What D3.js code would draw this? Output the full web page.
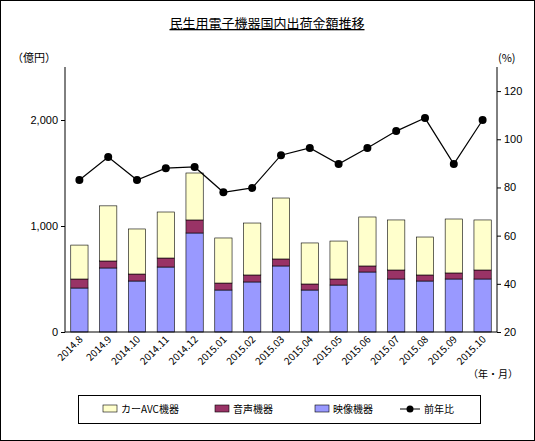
<!DOCTYPE html><html><head><meta charset="utf-8"><script src="https://cdn.jsdelivr.net/npm/d3@7"></script>
<style>body{margin:0}svg{font-family:"Noto Sans CJK JP",sans-serif}</style></head><body><svg width="535" height="441"></svg><script>
const months=["2014.8","2014.9","2014.10","2014.11","2014.12","2015.01","2015.02","2015.03","2015.04","2015.05","2015.06","2015.07","2015.08","2015.09","2015.10"];
const video=[415,604,481,613,934,396,472,623,396,443,566,500,481,500,500];
const audio=[85,66,66,85,123,66,66,66,57,57,57,85,57,57,85];
const carAvc=[320,520,425,434,443,425,490,575,387,358,462,472,358,509,472];
const yoy=[83.1,92.6,83.1,88,88.5,78,79.8,93.4,96.4,89.7,96.4,103.4,108.8,89.7,108];
const leftTicks=[0,1000,2000], rightTicks=[20,40,60,80,100,120];
const svg=d3.select("svg");
svg.append("rect").attr("x",0.5).attr("y",0.5).attr("width",534).attr("height",440).attr("fill","#fff").attr("stroke","#000");
const L=65,R=497,T=67,B=332;
const x=d3.scaleBand().domain(months).range([L,R]).paddingInner(0.4).paddingOuter(0.2);
const yl=d3.scaleLinear().domain([0,2500]).range([B,T]);
const yr=d3.scaleLinear().domain([20,130]).range([B,T]);
const ser=[{v:video,c:"#9999FF"},{v:audio,c:"#993366"},{v:carAvc,c:"#FFFFCC"}];
months.forEach((m,i)=>{let base=0;ser.forEach(s=>{const v=s.v[i];
svg.append("rect").attr("x",x(m)).attr("width",x.bandwidth()).attr("y",yl(base+v)).attr("height",yl(base)-yl(base+v)).attr("fill",s.c).attr("stroke","#000").attr("stroke-width",0.6);base+=v;});});
const gl=svg.append("g").attr("transform",`translate(${L},0)`).call(d3.axisLeft(yl).tickValues(leftTicks).tickFormat(d3.format(",")).tickSizeOuter(0).tickSize(4));
gl.append("line").attr("y1",T).attr("y2",B).attr("stroke","#000");
const gr=svg.append("g").attr("transform",`translate(${R},0)`).call(d3.axisRight(yr).tickValues(rightTicks).tickSizeOuter(0).tickSize(4));
gr.append("line").attr("y1",T).attr("y2",B).attr("stroke","#000");
svg.append("line").attr("x1",L).attr("x2",R).attr("y1",B).attr("y2",B).attr("stroke","#000");
svg.selectAll(".tick text").attr("font-size",11).attr("fill","#000");
svg.selectAll(".domain").remove();
months.forEach(m=>{const cx=x(m)+x.bandwidth()/2;
svg.append("text").attr("transform",`translate(${cx+4},${B+8}) rotate(-45)`).attr("text-anchor","end").attr("font-size",10).text(m);});
const line=d3.line().x((d,i)=>x(months[i])+x.bandwidth()/2).y(d=>yr(d));
svg.append("path").attr("d",line(yoy)).attr("fill","none").attr("stroke","#000").attr("stroke-width",1.2);
yoy.forEach((d,i)=>svg.append("circle").attr("cx",x(months[i])+x.bandwidth()/2).attr("cy",yr(d)).attr("r",4).attr("fill","#000"));
svg.append("text").attr("x",267).attr("y",28).attr("text-anchor","middle").attr("font-size",13).attr("text-decoration","underline").text("民生用電子機器国内出荷金額推移");
svg.append("text").attr("x",12).attr("y",62).attr("font-size",11).text("（億円）");
svg.append("text").attr("x",498).attr("y",62).attr("font-size",11).text("(%)");
svg.append("text").attr("x",468).attr("y",378).attr("font-size",10).text("（年・月）");
svg.append("rect").attr("x",78.5).attr("y",395.5).attr("width",402).attr("height",28).attr("fill","#fff").attr("stroke","#000");
const leg=[{t:"カーAVC機器",c:"#FFFFCC",x:103},{t:"音声機器",c:"#993366",x:215},{t:"映像機器",c:"#9999FF",x:315}];
leg.forEach(l=>{svg.append("rect").attr("x",l.x).attr("y",405).attr("width",14).attr("height",7).attr("fill",l.c).attr("stroke","#000").attr("stroke-width",0.6);
svg.append("text").attr("x",l.x+18).attr("y",413).attr("font-size",10).text(l.t);});
svg.append("line").attr("x1",400).attr("x2",420).attr("y1",409).attr("y2",409).attr("stroke","#000");
svg.append("circle").attr("cx",410).attr("cy",409).attr("r",3.5);
svg.append("text").attr("x",424).attr("y",413).attr("font-size",10).text("前年比");
</script></body></html>
